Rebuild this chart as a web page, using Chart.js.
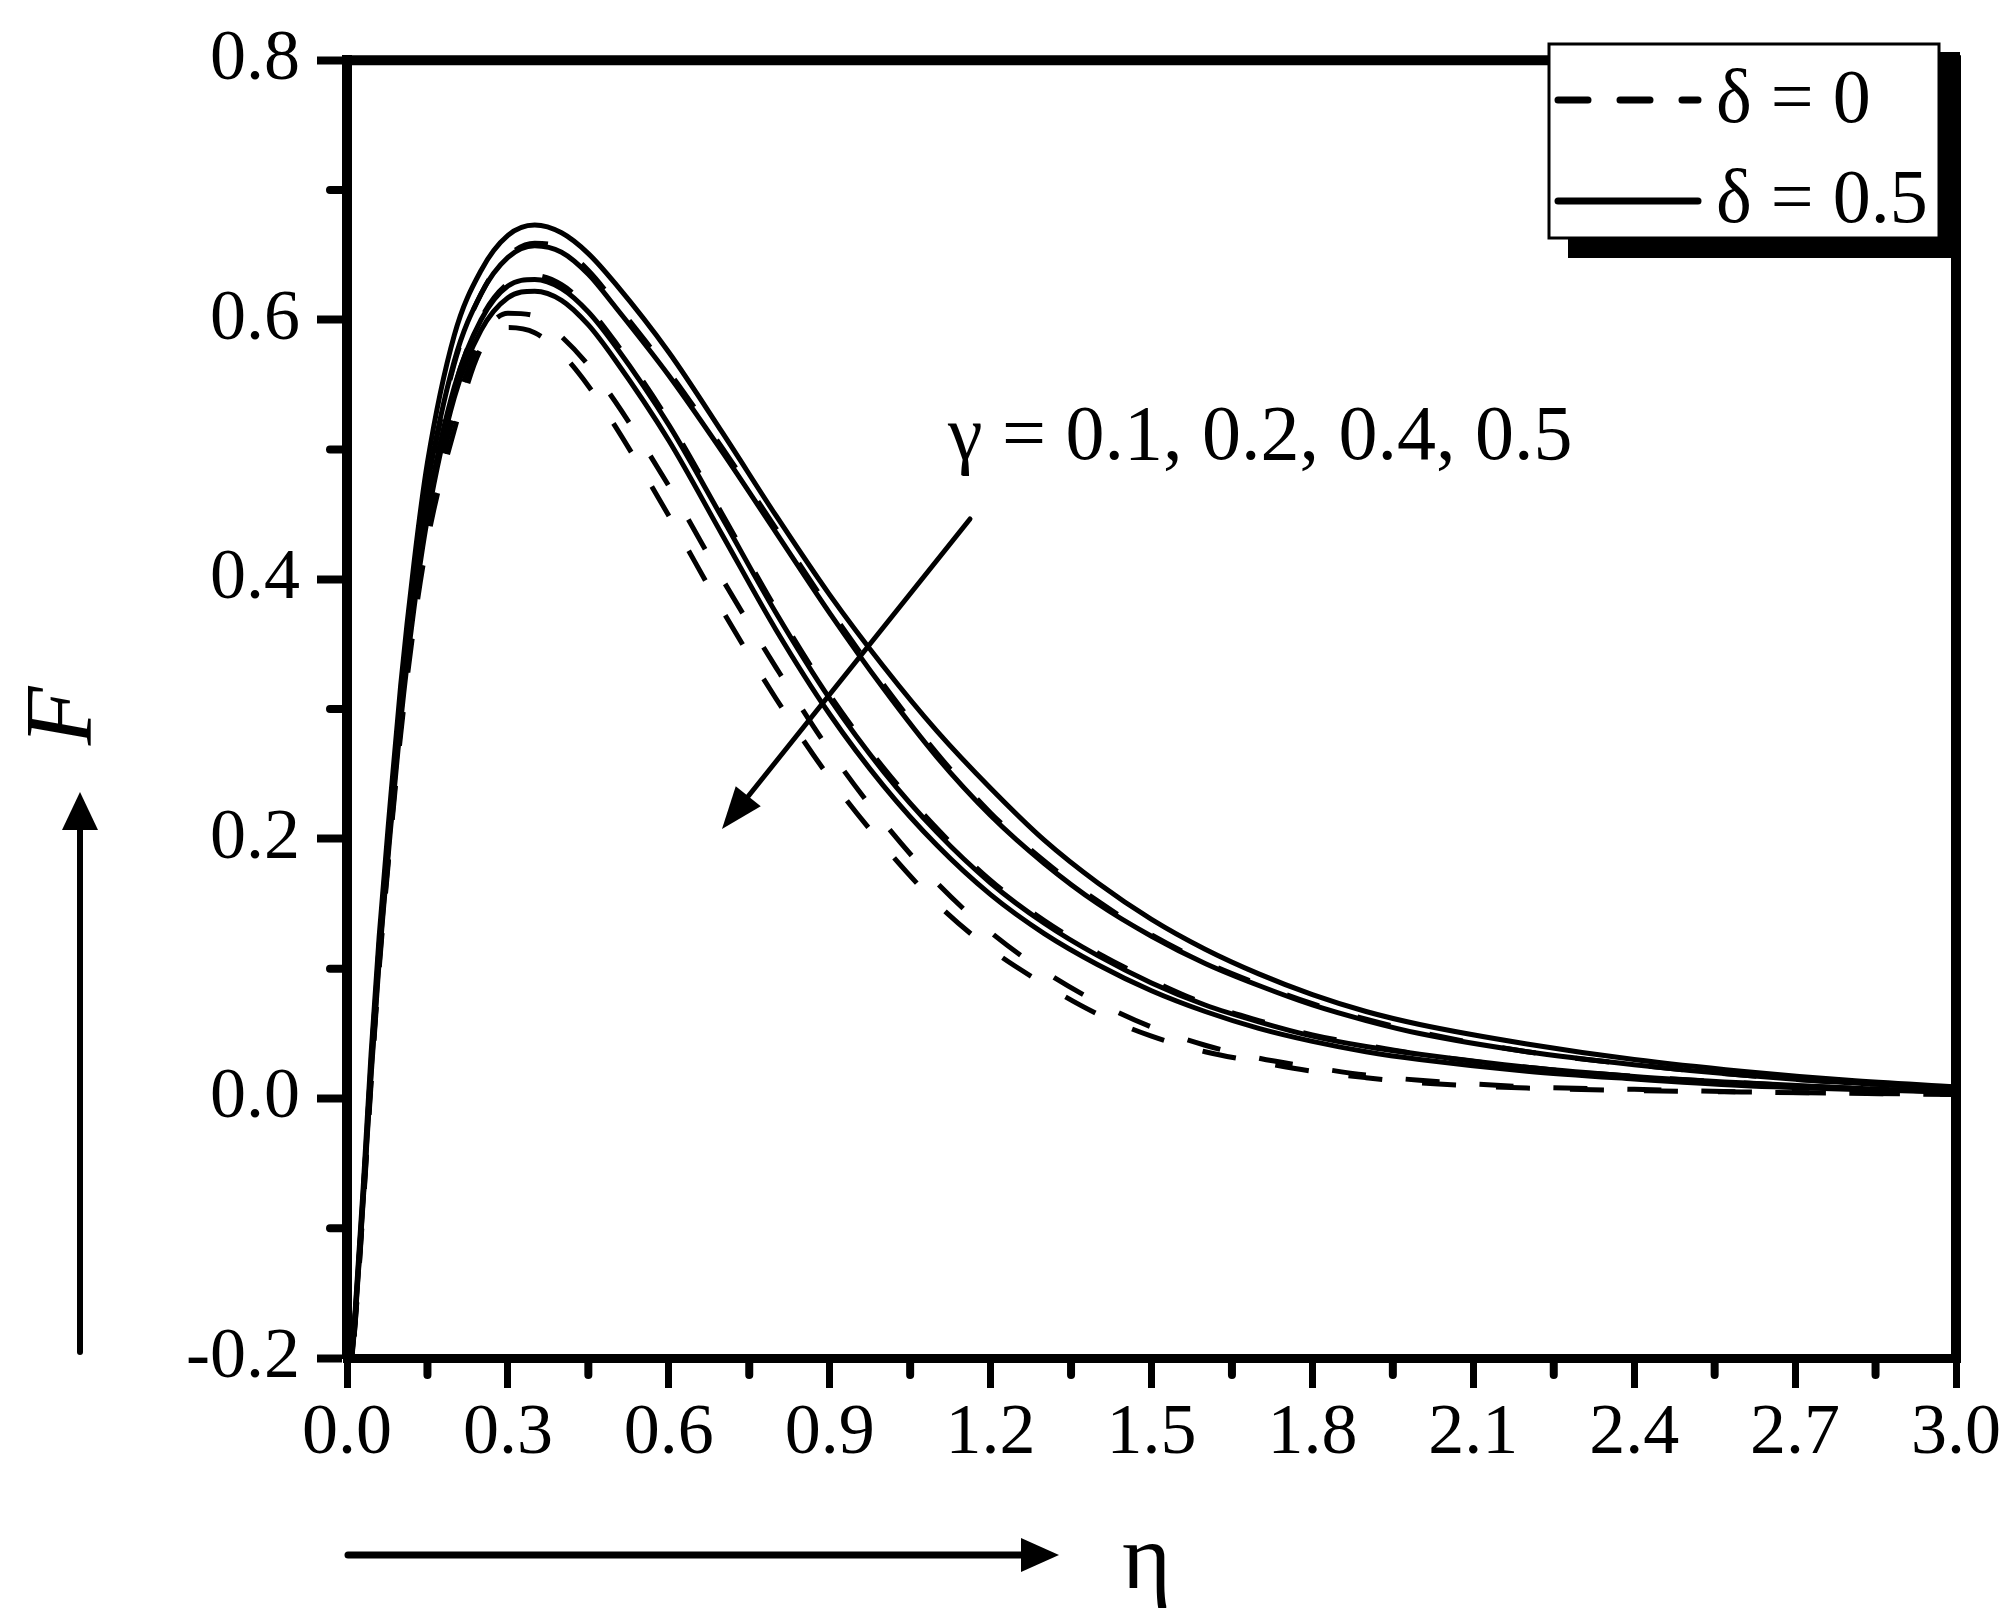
<!DOCTYPE html>
<html>
<head>
<meta charset="utf-8">
<script src="https://cdn.jsdelivr.net/npm/chart.js@4.4.1/dist/chart.umd.min.js"></script>
<style>
  html, body { margin: 0; padding: 0; background: #fff; }
  #wrap { width: 2010px; height: 1614px; }
</style>
</head>
<body>
<div id="wrap"><canvas id="chart" width="2010" height="1614"></canvas></div>
<script>
// eta grid shared by all curves
const eta = [0, 0.015, 0.03, 0.045, 0.06, 0.08, 0.1, 0.125, 0.15, 0.2, 0.25, 0.3, 0.35, 0.4, 0.45, 0.5,
  0.6, 0.7, 0.8, 0.9, 1.0, 1.1, 1.2, 1.3, 1.4, 1.5, 1.6, 1.7, 1.8, 1.9, 2.0, 2.2, 2.4, 2.6, 2.8, 3.0];

// delta = 0 (dashed), gamma = 0.1, 0.2, 0.4, 0.5
const F_d0_g01 = [-0.24, -0.168, -0.075, 0.028, 0.118, 0.216, 0.305, 0.397, 0.47, 0.566, 0.62, 0.649, 0.659, 0.655, 0.638, 0.613,
  0.56, 0.501, 0.439, 0.377, 0.319, 0.266, 0.22, 0.183, 0.152, 0.126, 0.105, 0.088, 0.073, 0.061, 0.051, 0.036, 0.026, 0.018, 0.012, 0.008];
const F_d0_g02 = [-0.24, -0.17, -0.078, 0.022, 0.11, 0.206, 0.294, 0.383, 0.453, 0.547, 0.601, 0.628, 0.634, 0.627, 0.609, 0.583,
  0.522, 0.45, 0.377, 0.311, 0.255, 0.208, 0.168, 0.137, 0.112, 0.091, 0.073, 0.06, 0.049, 0.041, 0.034, 0.024, 0.017, 0.012, 0.008, 0.005];
const F_d0_g04 = [-0.24, -0.174, -0.083, 0.015, 0.103, 0.198, 0.285, 0.37, 0.438, 0.528, 0.585, 0.605, 0.603, 0.587, 0.565, 0.537,
  0.472, 0.4, 0.332, 0.268, 0.213, 0.166, 0.128, 0.098, 0.074, 0.055, 0.041, 0.031, 0.024, 0.018, 0.014, 0.009, 0.007, 0.005, 0.004, 0.003];
const F_d0_g05 = [-0.24, -0.175, -0.085, 0.012, 0.1, 0.195, 0.28, 0.365, 0.43, 0.515, 0.578, 0.594, 0.59, 0.574, 0.549, 0.518,
  0.449, 0.376, 0.308, 0.247, 0.195, 0.15, 0.115, 0.088, 0.065, 0.048, 0.036, 0.028, 0.021, 0.016, 0.012, 0.008, 0.006, 0.005, 0.004, 0.003];

// delta = 0.5 (solid), gamma = 0.1, 0.2, 0.4, 0.5
const F_d05_g01 = [-0.24, -0.165, -0.07, 0.035, 0.125, 0.225, 0.318, 0.413, 0.49, 0.588, 0.638, 0.665, 0.673, 0.667, 0.651, 0.628,
  0.575, 0.513, 0.449, 0.388, 0.333, 0.283, 0.239, 0.199, 0.166, 0.138, 0.115, 0.096, 0.08, 0.067, 0.057, 0.042, 0.03, 0.021, 0.014, 0.009];
const F_d05_g02 = [-0.24, -0.168, -0.075, 0.028, 0.118, 0.216, 0.305, 0.398, 0.472, 0.568, 0.62, 0.648, 0.657, 0.652, 0.635, 0.61,
  0.557, 0.498, 0.436, 0.374, 0.316, 0.263, 0.218, 0.181, 0.15, 0.125, 0.104, 0.087, 0.072, 0.06, 0.05, 0.036, 0.026, 0.018, 0.012, 0.008];
const F_d05_g04 = [-0.24, -0.17, -0.078, 0.022, 0.11, 0.207, 0.295, 0.385, 0.455, 0.548, 0.6, 0.626, 0.631, 0.624, 0.606, 0.58,
  0.519, 0.447, 0.374, 0.308, 0.252, 0.205, 0.166, 0.135, 0.11, 0.089, 0.072, 0.059, 0.048, 0.04, 0.034, 0.024, 0.017, 0.012, 0.008, 0.005];
const F_d05_g05 = [-0.24, -0.172, -0.08, 0.018, 0.106, 0.202, 0.29, 0.378, 0.447, 0.54, 0.592, 0.617, 0.622, 0.615, 0.596, 0.569,
  0.507, 0.434, 0.361, 0.296, 0.241, 0.195, 0.157, 0.127, 0.103, 0.083, 0.067, 0.054, 0.044, 0.036, 0.03, 0.021, 0.015, 0.01, 0.007, 0.005];

const xMajor = [0, 3.0, 0.3];      // min, max, step
const yMajor = [-0.2, 0.8, 0.2];
const xMinor = [0.15, 0.45, 0.75, 1.05, 1.35, 1.65, 1.95, 2.25, 2.55, 2.85];
const yMinor = [-0.1, 0.1, 0.3, 0.5, 0.7];

const legendLabels = ["\u03b4 = 0", "\u03b4 = 0.5"];
const gammaNote = "\u03b3 = 0.1, 0.2, 0.4, 0.5";
const yTitle = "F";
const xTitle = "\u03b7";

const serif = '"Liberation Serif", "Times New Roman", serif';

function pts(vals) {
  return eta.map((e, i) => ({ x: e, y: vals[i] }));
}

function line(vals, label, dashed) {
  return {
    label: label,
    data: pts(vals),
    borderColor: "#000",
    borderWidth: 5,
    borderDash: dashed ? [34, 40] : [],
    pointRadius: 0,
    fill: false,
    cubicInterpolationMode: "monotone",
  };
}

function arrow(ctx, x1, y1, x2, y2, w, hl, hw) {
  const ang = Math.atan2(y2 - y1, x2 - x1);
  const bx = x2 - hl * Math.cos(ang), by = y2 - hl * Math.sin(ang);
  ctx.lineWidth = w;
  ctx.lineCap = "round";
  ctx.beginPath();
  ctx.moveTo(x1, y1);
  ctx.lineTo(bx, by);
  ctx.stroke();
  const px = Math.sin(ang) * hw / 2, py = -Math.cos(ang) * hw / 2;
  ctx.beginPath();
  ctx.moveTo(x2, y2);
  ctx.lineTo(bx + px, by + py);
  ctx.lineTo(bx - px, by - py);
  ctx.closePath();
  ctx.fill();
}

const decor = {
  id: "decor",
  afterDraw(chart) {
    const ctx = chart.ctx, a = chart.chartArea;
    const xs = chart.scales.x, ys = chart.scales.y;
    ctx.save();
    ctx.strokeStyle = "#000";
    ctx.fillStyle = "#000";

    // top and right frame
    ctx.lineWidth = 10;
    ctx.lineCap = "butt";
    ctx.beginPath();
    ctx.moveTo(a.left - 5, a.top);
    ctx.lineTo(a.right + 5, a.top);
    ctx.moveTo(a.right, a.top);
    ctx.lineTo(a.right, a.bottom + 5);
    ctx.stroke();

    // minor ticks
    ctx.lineWidth = 8;
    ctx.lineCap = "round";
    ctx.beginPath();
    yMinor.forEach(v => {
      const p = ys.getPixelForValue(v);
      ctx.moveTo(a.left - 17, p);
      ctx.lineTo(a.left - 5, p);
    });
    xMinor.forEach(v => {
      const p = xs.getPixelForValue(v);
      ctx.moveTo(p, a.bottom + 5);
      ctx.lineTo(p, a.bottom + 17);
    });
    ctx.stroke();

    // legend box with shadow
    ctx.fillRect(1568, 52, 392, 206);
    ctx.fillStyle = "#fff";
    ctx.fillRect(1549, 44, 390, 194);
    ctx.lineWidth = 3;
    ctx.lineCap = "butt";
    ctx.strokeRect(1549, 44, 390, 194);
    ctx.fillStyle = "#000";
    ctx.lineWidth = 7;
    ctx.lineCap = "round";
    ctx.setLineDash([30, 32]);
    ctx.beginPath();
    ctx.moveTo(1558, 100);
    ctx.lineTo(1698, 100);
    ctx.stroke();
    ctx.setLineDash([]);
    ctx.beginPath();
    ctx.moveTo(1558, 201);
    ctx.lineTo(1698, 201);
    ctx.stroke();
    ctx.font = "76px " + serif;
    ctx.textAlign = "left";
    ctx.textBaseline = "alphabetic";
    ctx.fillText(legendLabels[0], 1716, 122);
    ctx.fillText(legendLabels[1], 1716, 222);

    // gamma note and its arrow
    ctx.font = "78px " + serif;
    ctx.fillText(gammaNote, 948, 459);
    arrow(ctx, 970, 519, 722, 829, 5, 42, 32);

    // axis titles with arrows
    ctx.save();
    ctx.translate(66, 716);
    ctx.rotate(-Math.PI / 2);
    ctx.font = "italic 96px " + serif;
    ctx.textAlign = "center";
    ctx.textBaseline = "middle";
    ctx.fillText(yTitle, 0, 0);
    ctx.restore();
    arrow(ctx, 80, 1352, 80, 792, 6, 38, 36);

    ctx.font = "94px " + serif;
    ctx.textAlign = "left";
    ctx.fillText(xTitle, 1122, 1588);
    arrow(ctx, 348, 1555, 1059, 1555, 7, 38, 34);

    ctx.restore();
  },
};

new Chart(document.getElementById("chart"), {
  type: "line",
  data: {
    datasets: [
      line(F_d0_g01, legendLabels[0], true),
      line(F_d0_g02, legendLabels[0], true),
      line(F_d0_g04, legendLabels[0], true),
      line(F_d0_g05, legendLabels[0], true),
      line(F_d05_g01, legendLabels[1], false),
      line(F_d05_g02, legendLabels[1], false),
      line(F_d05_g04, legendLabels[1], false),
      line(F_d05_g05, legendLabels[1], false),
    ],
  },
  options: {
    responsive: false,
    animation: false,
    layout: { padding: { left: 0, top: 56, right: 54, bottom: 136 } },
    scales: {
      x: {
        type: "linear",
        min: xMajor[0],
        max: xMajor[1],
        afterFit: (s) => { s.height = 120; },
        border: { display: true, width: 9, color: "#000" },
        grid: { drawOnChartArea: false, drawTicks: true, tickLength: 30, tickWidth: 7, tickColor: "#000" },
        ticks: {
          stepSize: xMajor[2],
          autoSkip: false,
          maxRotation: 0,
          padding: 3,
          color: "#000",
          font: { family: serif, size: 72 },
          callback: (v) => v.toFixed(1),
        },
      },
      y: {
        type: "linear",
        min: yMajor[0],
        max: yMajor[1],
        afterFit: (s) => { s.width = 347; },
        border: { display: true, width: 10, color: "#000" },
        grid: { drawOnChartArea: false, drawTicks: true, tickLength: 30, tickWidth: 8, tickColor: "#000" },
        ticks: {
          stepSize: yMajor[2],
          padding: 17,
          color: "#000",
          font: { family: serif, size: 72 },
          callback: (v) => v.toFixed(1),
        },
      },
    },
    plugins: {
      legend: { display: false },
      tooltip: { enabled: false },
    },
  },
  plugins: [decor],
});
</script>
</body>
</html>
